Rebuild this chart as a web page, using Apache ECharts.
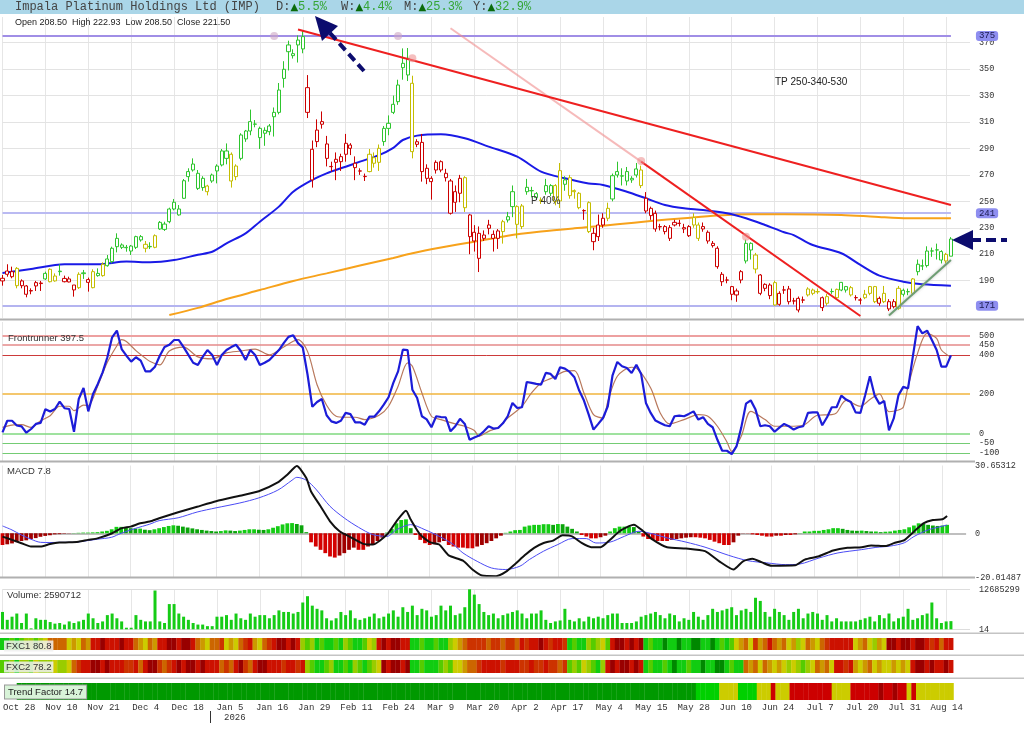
<!DOCTYPE html>
<html><head><meta charset="utf-8">
<script src="https://cdn.jsdelivr.net/npm/echarts@6/dist/echarts.min.js"></script>
<style>html,body{margin:0;padding:0;background:#fff}#c{width:1024px;height:735px}</style>
</head><body><div id="c"></div>
<script>
// ---------- DATA ----------
const tickLabels = ['Oct 28','Nov 10','Nov 21','Dec 4','Dec 18','Jan 5','Jan 16','Jan 29','Feb 11','Feb 24','Mar 9','Mar 20','Apr 2','Apr 17','May 4','May 15','May 28','Jun 10','Jun 24','Jul 7','Jul 20','Jul 31','Aug 14'];
const TICK_EVERY = 9;
const BAR_COUNT = 200, PAD_BARS = 4;

const opens = [189.8,194.8,193.0,199.3,186.2,186.0,182.5,186.0,187.8,191.3,
198.6,189.8,196.8,189.2,189.0,186.7,184.7,195.3,190.8,184.7,
195.5,193.8,206.4,204.4,215.7,217.0,215.2,212.4,215.2,223.3,
217.5,215.6,215.2,229.1,232.8,234.6,249.3,239.7,252.3,268.7,
278.2,271.2,260.4,257.3,265.4,273.0,277.5,282.5,285.6,268.7,
282.5,297.2,303.2,308.3,305.2,301.5,302.7,314.0,317.3,343.0,
363.2,361.7,368.3,374.6,336.0,266.2,295.2,308.3,293.4,276.2,
279.5,280.0,285.6,292.6,278.8,273.0,268.9,272.5,283.0,279.5,
295.2,305.2,317.3,325.4,351.1,358.2,339.3,293.1,294.6,275.0,
267.4,273.7,280.0,267.9,265.4,249.3,256.1,267.9,239.7,226.6,
206.9,224.5,229.6,225.0,227.6,227.1,235.9,257.3,232.6,246.5,
257.3,258.0,255.8,251.0,257.3,261.9,261.9,250.3,262.9,267.9,
258.1,256.1,243.0,249.0,225.8,223.3,232.1,237.2,251.8,269.9,
269.3,265.4,267.4,269.9,273.7,252.3,244.7,240.9,230.9,230.9,
230.1,232.1,233.4,230.1,224.0,237.7,232.1,230.9,226.6,218.2,
214.5,194.8,190.5,185.5,179.2,190.5,204.9,218.2,209.4,194.3,
184.2,178.7,188.5,172.1,183.0,183.7,174.7,167.8,175.4,179.2,
180.4,181.7,177.1,172.9,181.7,177.1,182.9,185.5,184.7,177.2,
175.4,177.1,180.4,185.5,172.9,180.4,174.1,170.3,169.1,182.7,
181.6,180.4,196.8,201.1,201.4,212.5,213.2,212.0,204.9,208.5];
const closes = [191.8,197.3,196.8,186.2,189.8,179.7,182.2,188.5,188.2,195.5,
189.2,193.5,197.2,191.7,191.3,183.0,194.8,195.9,188.7,196.8,
193.8,202.4,201.3,214.5,222.0,215.2,214.9,216.2,223.3,220.8,
214.5,215.9,224.0,234.1,228.8,244.2,244.2,244.2,265.6,272.5,
273.7,259.8,267.4,261.6,269.9,276.7,288.1,288.1,265.4,276.7,
300.2,303.2,310.3,308.5,298.2,303.7,307.0,317.3,334.2,349.9,
368.3,360.2,372.0,365.3,317.3,289.4,303.9,310.3,282.5,276.4,
281.8,283.8,293.9,290.1,275.5,272.9,268.7,285.6,278.8,290.1,
305.2,309.0,323.4,338.0,354.4,345.6,287.6,295.1,272.5,267.4,
264.9,279.5,273.7,271.2,241.0,257.3,267.4,245.2,223.3,220.0,
225.8,222.0,232.1,222.0,222.0,234.6,238.4,246.0,246.0,230.9,
260.6,258.1,252.8,250.5,261.9,256.1,249.8,273.2,266.2,254.3,
257.3,245.2,242.9,227.1,219.5,232.1,237.2,244.7,269.4,272.5,
269.1,272.5,266.2,274.5,261.9,242.7,239.2,229.1,230.7,227.1,
222.0,234.1,233.3,229.1,230.9,232.1,222.0,229.1,220.0,216.5,
200.6,189.2,190.4,179.7,182.2,196.8,218.2,213.2,198.8,180.4,
187.2,186.7,171.6,180.4,182.9,174.1,174.6,176.6,175.3,183.7,
182.9,181.6,169.6,177.9,181.8,183.4,188.7,182.9,179.2,177.1,
175.3,179.7,185.5,174.1,176.6,174.1,168.6,174.1,184.2,179.7,
181.7,191.3,202.4,201.2,212.4,212.4,213.3,205.6,209.9,221.5];
const lows = [186.2,193.0,191.8,184.2,184.2,177.4,179.7,182.2,182.2,190.5,
188.7,189.2,193.8,188.7,188.7,177.9,183.7,191.3,181.7,184.2,
193.0,193.0,200.6,203.1,211.4,213.9,211.9,209.4,213.9,219.5,
211.4,213.9,214.5,228.4,227.6,233.4,243.2,239.2,251.8,264.9,
272.5,258.6,258.0,254.5,264.0,263.6,276.4,278.0,260.4,266.0,
281.0,295.0,300.0,306.0,289.6,292.0,300.0,299.0,315.8,336.0,
349.0,358.0,355.0,362.0,313.0,260.4,291.0,305.0,276.4,272.5,
266.0,273.0,280.0,285.0,266.0,270.0,265.4,272.0,275.5,273.0,
292.0,300.0,316.0,323.0,342.0,341.0,282.5,291.0,264.9,263.0,
251.3,271.0,272.0,265.0,240.0,242.0,249.3,242.0,210.0,212.0,
196.5,220.0,225.0,212.0,214.0,218.0,234.0,238.0,222.0,229.0,
255.0,253.0,251.0,248.0,255.0,254.0,247.0,245.0,258.0,252.0,
252.0,244.0,236.0,226.0,213.0,220.0,230.0,235.0,250.0,268.0,
262.0,262.0,264.0,268.0,260.0,241.0,236.0,227.0,228.0,225.0,
220.0,231.0,231.0,226.0,223.0,230.0,220.0,227.0,218.0,215.0,
199.0,186.0,188.0,175.2,174.0,188.0,203.0,206.0,195.5,179.0,
182.0,176.0,171.0,171.0,180.0,172.0,172.0,166.0,173.0,178.0,
179.0,180.0,167.0,171.0,180.0,176.0,182.0,181.0,178.0,175.0,
172.0,176.0,179.0,173.0,171.0,173.0,167.0,169.0,168.0,178.0,
179.0,179.0,194.0,198.0,200.0,208.0,206.0,203.0,203.0,208.5];
const highs = [194.3,202.4,200.6,200.3,191.0,186.7,184.2,189.8,189.8,196.8,
199.3,195.5,202.4,193.8,193.0,186.7,196.3,198.1,192.3,198.6,
199.3,203.9,209.4,215.7,225.8,218.2,217.0,217.0,224.0,224.5,
220.0,219.0,225.0,235.1,234.6,245.2,251.8,247.2,266.9,275.0,
282.5,273.7,269.0,262.5,271.0,278.0,289.6,293.8,287.0,278.0,
301.5,304.0,319.4,311.5,306.5,306.0,308.5,321.0,339.5,356.0,
371.5,365.0,375.5,379.0,345.5,296.0,312.0,318.0,299.5,280.0,
287.0,286.0,301.0,294.0,284.0,275.0,271.0,289.6,287.0,293.0,
307.0,315.0,330.0,342.0,365.7,366.0,345.0,297.0,301.0,278.0,
269.0,281.0,281.0,274.6,266.9,262.0,270.0,269.0,240.5,232.0,
231.0,228.0,236.0,228.0,229.0,236.0,242.0,262.0,247.0,248.0,
267.0,261.0,257.0,253.0,267.0,263.0,263.0,279.0,269.0,270.0,
259.0,257.0,244.0,250.0,230.0,240.0,241.0,249.0,271.0,280.0,
275.0,276.0,269.0,279.0,277.0,257.0,246.0,243.0,233.0,232.0,
232.0,236.0,236.0,233.0,232.0,241.0,234.0,234.0,228.0,220.0,
216.0,196.5,193.0,186.0,184.0,198.0,221.0,219.0,211.0,195.0,
188.0,188.0,190.0,182.0,186.0,186.0,177.0,178.0,178.0,185.0,
184.0,184.0,178.0,180.0,184.0,184.0,189.0,186.0,186.0,179.0,
177.0,183.0,186.0,186.0,178.0,186.0,176.0,176.0,186.0,184.0,
184.0,192.0,206.0,206.0,216.0,215.0,218.0,213.0,211.0,222.93];
// candle trend colour per bar: g=green, r=red, y=yellow
const candleColors = 'rrryrrrrrg'+'yygrrrygry'+'gygggggggg'+'ygyggggggg'+'gggyggggyy'+'gggggggggg'+'ggggrrrrrr'+'rrrrrrryyy'+'ggggggyrrr'+'rrrrrrryrr'+
'rrrrryggyy'+'gggyggyygy'+'yyryrrrygg'+'ggggyrrrrr'+'rrrrryyrrr'+'rrrrrrggyr'+'rryrrrrrry'+'yyrygyggyr'+'ryyyryrryg'+'gyggggggyg';

// moving averages as [barIndex, value]
const maBlue = [[0,195.8],[6,198.9],[13,202.4],[20,202.4],[26,204.4],[31,203.9],[36,205.6],[41,209.6],[44,211.9],[47,218.2],[51,225.8],[54,234.6],[58,246],[61,257.3],[65,266.2],[68,271.2],[72,276.2],[75,280],[79,285],[82,290.5],[84,296.4],[87,299.7],[92,300.7],[97,297.7],[102,291.4],[108,283.8],[113,272.5],[118,267.4],[123,263.5],[126,262.4],[131,257.3],[135,252.3],[139,247.2],[143,244.7],[147,243.5],[152,241],[156,237.2],[160,232.1],[164,226.6],[166,224.5],[170,217],[176,210.7],[180,201.9],[184,193.8],[189,189.2],[193,187.2],[199,186.2]];
const maOrange = [[35,164],[41,169.4],[47,176.1],[54,182.9],[61,189.8],[68,195.5],[75,201.4],[82,207.2],[86,210.7],[92,215],[99,219.5],[106,224],[113,227.1],[120,229.6],[123,230.5],[129,232.6],[136,235.1],[143,237.2],[150,239.2],[157,240.2],[164,240.2],[176,239.7],[183,238.4],[190,237.2],[199,237.2]];
// trend lines [barIndex, price]
const trendMain = [[62,380.0],[199,247.2]];
const trendFaint = [[94,380.9],[134,280.0]];
const trendSteep = [[134,280.0],[180,163.3]];
const trendUp = [[186,163.7],[199,205.6]];
const pivotsTop = [[57,375],[83,375]];
const pivotsRed = [[86,358.2],[134,280.5],[156,223.3]];
const priceTicks = [190,210,230,250,270,290,310,330,350,370];

const frBlue = [5,64,64,40,35,3,22,48,53,123,
111,124,162,128,124,8,175,231,112,201,
252,311,388,490,524,430,396,366,388,371,
316,316,340,396,440,452,476,476,440,400,
360,349,390,425,400,349,400,425,440,452,
420,374,425,400,349,360,374,400,425,460,
492,500,460,438,300,135,160,175,92,61,
53,64,104,98,56,56,44,85,85,112,
146,184,257,316,427,424,222,180,87,71,
31,87,83,82,10,36,74,48,-33,-21,
-11,10,36,24,27,51,87,155,129,133,
262,257,252,248,308,303,277,337,330,313,
286,218,167,95,19,48,78,138,296,364,
342,333,308,350,302,155,104,65,53,41,
36,87,90,87,99,112,70,82,48,31,
-33,-89,-89,-106,-67,29,151,168,121,36,
41,36,8,29,48,36,19,31,36,104,
107,107,41,82,133,133,192,172,160,107,
104,194,291,192,150,165,15,76,195,237,
229,391,547,510,524,476,425,340,340,397.5];
const frBrown = [[0,30],[2,42],[4,44],[6,30],[8,64],[10,90],[12,138],[14,138],[15,116],[17,144],[18,141],[20,243],[22,362],[24,447],[25,478],[26,468],[28,422],[30,383],[31,366],[33,349],[35,420],[38,440],[41,390],[44,380],[47,410],[50,420],[53,430],[56,400],[59,440],[61,470],[62,478],[64,418],[66,248],[68,143],[70,87],[72,82],[74,82],[76,70],[79,92],[81,138],[83,240],[85,359],[86,342],[88,206],[90,87],[92,70],[95,48],[97,36],[99,14],[100,-15],[102,10],[104,31],[106,78],[109,138],[111,206],[113,257],[115,279],[118,316],[120,320],[122,206],[124,95],[126,78],[127,163],[129,291],[132,337],[133,333],[136,231],[138,104],[140,48],[143,70],[146,95],[148,87],[150,36],[152,-44],[153,-92],[155,-15],[157,112],[160,70],[162,36],[165,36],[168,41],[171,92],[174,95],[175,104],[177,168],[180,138],[182,172],[184,201],[186,110],[188,119],[189,133],[190,238],[192,408],[194,510],[196,484],[197,425],[199,388]];
const frLevels = [500,450,400,200,0,-50,-100];

const macdLine = [[0,-1.5],[2,-3.0],[4,-4.5],[6,-6.0],[8,-6.0],[10,-4.9],[12,-4.2],[14,-4.1],[16,-3.8],[18,-3.0],[20,-2.3],[23,-0.1],[25,2.2],[27,3.0],[29,4.5],[31,5.3],[33,6.8],[37,9.5],[41,12],[45,14.5],[50,17],[54,19],[58,23],[60,26.5],[62,30.4],[64,25],[65,18.9],[67,12.2],[69,5.4],[71,0.9],[73,-1.4],[76,-4.8],[78,-5.1],[81,-0.6],[83,5.4],[85,10.2],[86,6.2],[88,-0.6],[90,-4.0],[92,-5.1],[94,-10.0],[97,-12.4],[99,-16.4],[101,-19.1],[104,-19.4],[106,-17.5],[108,-13.9],[110,-10.0],[112,-6.6],[114,-4.4],[116,-3.3],[118,-0.9],[120,-1.4],[122,-4.4],[124,-6.3],[126,-6.3],[128,-2.9],[130,0.9],[132,3.2],[133,3.9],[135,0.9],[137,-2.9],[140,-6.3],[144,-6.9],[148,-8.1],[151,-12.7],[154,-16.4],[156,-12.7],[158,-11.5],[160,-13.2],[162,-14.7],[167,-14.5],[169,-11.9],[172,-10.4],[175,-7.8],[178,-6.6],[181,-6.3],[183,-5.5],[186,-5.8],[188,-4.3],[190,-3.1],[192,0.7],[194,4.5],[196,6.0],[198,6.3],[199,7.8]];
const macdSignal = [[0,3.3],[2,1.5],[4,-0.8],[6,-2.7],[8,-4.1],[10,-4.2],[12,-4.1],[15,-4.1],[18,-3.3],[20,-2.7],[23,-1.8],[25,0],[28,2.2],[31,4.1],[33,5.7],[37,7],[41,9.6],[45,11.5],[50,13.7],[54,16],[58,19.5],[61,24],[62,25.3],[64,24],[66,20],[69,12.2],[72,6.9],[75,2.7],[78,-0.6],[81,-1.4],[83,1.6],[86,3.9],[89,1.6],[92,-1.4],[95,-5.1],[97,-8.9],[100,-12.7],[103,-15.7],[106,-16.4],[109,-14.9],[111,-11.9],[114,-8.1],[117,-5.1],[120,-2.4],[123,-2.4],[125,-4.4],[128,-4.0],[131,-1.4],[134,0.9],[137,-0.3],[140,-2.1],[144,-4.0],[148,-6.3],[153,-10.0],[157,-12.4],[161,-13.4],[165,-14.2],[168,-13.9],[172,-11.2],[176,-8.9],[181,-7.4],[184,-6.4],[187,-5.8],[190,-4.3],[192,-1.5],[195,1.5],[199,3.7]];
const macdHist = [-5.3,-5.0,-4.6,-4.0,-3.5,-3.2,-2.6,-2.2,-1.6,-1.2,
-0.9,-0.5,-0.4,-0.2,-0.1,0.1,0.2,0.3,0.3,0.4,
0.5,0.8,1.1,1.8,2.9,2.9,2.6,2.3,2.1,2.1,
1.6,1.4,1.8,2.3,2.8,3.3,3.6,3.4,3.0,2.6,
2.2,1.8,1.5,1.2,1.0,0.8,1.0,1.3,1.2,1.0,
1.2,1.5,1.8,1.8,1.6,1.5,1.8,2.5,3.2,4.0,
4.5,4.6,4.2,3.6,0.5,-4.1,-6.0,-7.5,-9.0,-10.5,
-11.0,-10.1,-9.0,-7.5,-6.5,-7.5,-7.5,-6.0,-5.3,-3.5,
-2.0,0.3,2.0,4.5,6.0,6.3,2.3,-0.8,-3.0,-4.5,
-5.3,-5.0,-4.1,-3.5,-5.3,-6.0,-6.5,-6.5,-6.8,-6.8,
-6.0,-5.3,-4.5,-3.5,-2.3,-1.1,0.2,0.8,1.4,1.5,
3.0,3.5,3.8,3.8,4.1,4.1,3.8,4.2,4.1,3.0,
2.0,0.8,-0.8,-1.5,-2.3,-2.3,-1.8,-1.1,0.8,2.3,
3.0,3.0,3.0,2.8,0.8,-1.5,-2.6,-3.0,-3.5,-3.5,
-3.5,-3.0,-2.6,-2.3,-2.0,-1.8,-1.8,-2.0,-2.3,-3.0,
-3.8,-4.5,-5.3,-5.3,-4.1,-1.1,-0.1,-0.1,-0.5,-0.8,
-1.1,-1.5,-1.5,-1.1,-1.1,-0.8,-0.8,-0.5,0.1,0.8,
0.8,1.1,1.1,1.5,1.8,2.3,2.3,2.0,1.5,1.2,
1.1,1.2,1.0,0.8,0.8,0.5,0.7,0.8,1.2,1.5,
1.8,2.7,3.5,4.5,4.2,3.8,3.5,3.3,3.5,3.8];
const MACD_MAX = 30.65312, MACD_MIN = -20.01487;

// volume in millions of shares
const volumeM = [5.5,3.0,4.0,5.0,2.0,5.0,0.3,3.5,3.0,3.0,
2.3,1.8,2.0,1.5,2.5,2.0,2.5,3.0,5.0,3.5,
2.0,2.5,4.5,5.0,3.5,2.5,0.5,0.5,4.5,3.0,
2.5,2.5,12.3,2.5,2.0,8.0,8.0,5.0,4.0,3.0,
2.0,1.5,1.5,1.0,1.0,4.0,4.0,4.5,3.0,5.0,
3.5,3.0,5.0,4.0,4.5,4.5,3.5,4.5,6.0,5.5,
5.5,5.0,5.5,8.5,10.5,7.5,6.5,6.0,3.5,2.8,
3.5,5.5,4.5,6.0,3.5,3.0,3.5,4.0,5.0,3.5,
4.0,5.0,6.0,4.0,7.0,5.5,7.5,4.5,6.5,6.0,
4.0,4.5,7.5,6.0,7.5,4.5,5.0,7.0,13.0,11.0,
8.0,5.5,4.5,5.0,3.5,4.5,5.0,5.5,6.0,5.0,
3.5,5.0,5.0,6.0,3.0,2.0,2.5,2.8,6.5,3.0,
2.5,3.5,2.5,4.0,3.5,4.0,3.5,4.5,5.0,5.0,
2.0,2.0,2.0,2.5,4.0,4.5,5.0,5.5,4.5,3.5,
5.0,4.5,2.5,3.5,3.0,5.5,4.0,3.0,4.5,6.5,
5.5,6.0,6.5,7.0,4.5,6.0,6.5,5.5,10.0,9.0,
5.5,4.0,6.5,5.5,4.5,3.0,5.5,6.5,3.5,5.0,
5.5,5.0,3.0,4.5,2.5,3.5,2.5,2.5,2.5,2.5,
3.0,3.5,4.0,2.5,4.5,3.5,5.0,2.5,3.5,4.0,
6.5,3.0,3.5,4.5,5.0,8.5,3.5,2.0,2.5,2.590712];
const VOL_MAX = 12685299, VOL_MIN = 14;

// heat strips: 0 dark red ... 9 dark green
const fxc1Codes = '8878766765'+'3333'+'54534'+'1101110113'+'4534'+'11001001'+'3453'+'325453214532'+'100101'+'6768788786788756'+'1010011'+'887887886'+'54322223223223'+'1211012112'+'8788'+'67657'+'1001010'+'878898898899889'+'8787'+'54352431'+'3435465345321'+'1111'+'5435645'+'00100100'+'121311';
const fxc2Codes = '7768667566'+'65665'+'321100101112'+'2131002321'+'01001011'+'132310231001'+'1121121'+'6788768878678765'+'010010'+'887888767'+'554332'+'11112111'+'2212212232'+'76756786'+'10100101'+'878878988788988998788'+'34353454'+'56567653435'+'1121'+'454354554545'+'100101101';
const trendRuns = [['9',145],['8',5],['5',4],['8',4],['5',3],['1',1],['5',3],['1',9],['5',4],['1',6],['0',1],['1',2],['0',1],['1',2],['5',1],['1',1],['5',8]];

// ---------- STYLE ----------
const CANDLE_PAL = {g:'#2ec52e', r:'#cc0000', y:'#c4bd00'};
const HEAT_PAL = {'0':'#990000','1':'#cc1100','2':'#cc3300','3':'#cc6600','4':'#cc9900','5':'#cccc00','6':'#99cc00','7':'#55cc00','8':'#11cc11','9':'#008800'};
const TREND_PAL = {'9':'#009900','8':'#00d000','5':'#cccc00','1':'#cc0000','0':'#a00000'};
const MONO = 'Liberation Mono, DejaVu Sans Mono, monospace';
const SANS = 'Liberation Sans, Arial, sans-serif';

const N = BAR_COUNT + PAD_BARS;
const cats = Array.from({length:N}, (_, i) => String(i));
const tickShow = (i) => i % TICK_EVERY === 0 && i / TICK_EVERY < tickLabels.length;

const G = {left:2.5, right:54};
const grids = [
  {top:17, height:301},
  {top:322, height:140},
  {top:465.5, height:112},
  {top:589.3, height:40},
  {top:638, height:12},
  {top:660, height:13},
  {top:683, height:17}
].map(g => Object.assign({}, G, g));

const xAxes = grids.map((g, i) => ({
  type:'category', gridIndex:i, data:cats, boundaryGap:false,
  axisLine:{show:false}, axisTick:{show:false},
  axisLabel:{show:i===6, interval:(idx)=>tickShow(idx), formatter:(v, idx)=> tickShow(idx) ? tickLabels[idx/TICK_EVERY] : '',
    fontFamily:MONO, fontSize:9, color:'#333', margin:3, alignMinLabel:'center'},
  splitLine:{show:i<4, interval:(idx)=>tickShow(idx), lineStyle:{color:'#e6e6e6', width:1}}
}));

const axLab = (vals) => ({customValues:vals, fontFamily:MONO, fontSize:8.5, color:'#333', margin:9, formatter:(v)=>String(v)});
const yAxes = [
  {gridIndex:0, min:161.75, max:389.44, axisLabel:axLab(priceTicks)},
  {gridIndex:1, min:-146.4, max:567.9, axisLabel:axLab(frLevels)},
  {gridIndex:2, min:MACD_MIN, max:MACD_MAX, axisLabel:axLab([MACD_MAX,0,MACD_MIN])},
  {gridIndex:3, min:VOL_MIN, max:VOL_MAX, axisLabel:axLab([VOL_MAX, VOL_MIN])},
  {gridIndex:4, min:0, max:1, axisLabel:{show:false}},
  {gridIndex:5, min:0, max:1, axisLabel:{show:false}},
  {gridIndex:6, min:0, max:1, axisLabel:{show:false}}
].map(a => Object.assign({type:'value', position:'right', scale:false, splitLine:{show:false}, axisLine:{show:false}, axisTick:{show:false}}, a));

const candleData = opens.map((o, i) => {
  const col = CANDLE_PAL[candleColors[i]];
  return {value:[o, closes[i], lows[i], highs[i]], itemStyle:{color:'#ffffff', color0:col, borderColor:col, borderColor0:col}};
});

const levelMark = (v, color, width) => [{coord:[0, v], lineStyle:{color, width, type:'solid'}, label:{show:true, formatter:String(v)}}, {coord:[BAR_COUNT-1, v]}];

const stripData = (codes, pal) => codes.split('').map(c => ({value:1, itemStyle:{color:pal[c]}}));
const trendCodes = trendRuns.map(r => r[0].repeat(r[1])).join('');

const lineS = (data, color, width, xi, extra) => Object.assign({type:'line', xAxisIndex:xi, yAxisIndex:xi, data, symbol:'none', silent:true,
  lineStyle:{color, width}, itemStyle:{color}}, extra || {});

const series = [
  {type:'candlestick', xAxisIndex:0, yAxisIndex:0, data:candleData, barWidth:3.6, clip:false, silent:true, z:4,
    markLine:{silent:true, symbol:['none','none'], z:1, label:{show:false}, lineStyle:{color:'#e3e3e3', width:1, type:'solid'},
      data: priceTicks.map(v => ({yAxis:v}))}},
  lineS(maOrange, '#f7a21b', 2, 0, {smooth:0.3, z:3}),
  lineS(maBlue, '#1a1ae6', 2, 0, {smooth:0.3, z:3,
    markLine:{silent:true, symbol:['none','none'], z:2, lineStyle:{type:'solid'},
      label:{position:'end', distance:25, backgroundColor:'#8e8ef0', color:'#1a1a50', padding:[1,3,0,3], borderRadius:3, fontFamily:MONO, fontSize:9},
      data:[levelMark(375, '#a08ee6', 2), levelMark(241, '#babaf2', 2), levelMark(171, '#b4b4f0', 2)]}}),
  lineS(trendFaint, 'rgba(240,140,140,0.6)', 2, 0, {z:5}),
  lineS(trendMain, '#ee2020', 2, 0, {z:5}),
  lineS(trendSteep, '#ee2020', 2, 0, {z:5}),
  lineS(trendUp, '#6f9e74', 2, 0, {z:5, lineStyle:{color:'#6f9e74', width:2, shadowColor:'rgba(150,150,150,0.6)', shadowBlur:3}}),
  {type:'scatter', xAxisIndex:0, yAxisIndex:0, data:pivotsTop, symbolSize:8, silent:true, z:6, itemStyle:{color:'rgba(205,165,195,0.75)'}},
  {type:'scatter', xAxisIndex:0, yAxisIndex:0, data:pivotsRed, symbolSize:8, silent:true, z:6, itemStyle:{color:'rgba(238,140,140,0.7)'}},
  // Frontrunner
  lineS(frBrown, '#b8785c', 1.2, 1, {smooth:0.3, z:3}),
  lineS(frBlue, '#1c1cd8', 2.2, 1, {z:4,
    markLine:{silent:true, symbol:['none','none'], z:1, label:{show:false},
      data:[
        {yAxis:500, lineStyle:{color:'#eda0a0', width:2, type:'solid'}},
        {yAxis:450, lineStyle:{color:'#e58a8a', width:1.5, type:'solid'}},
        {yAxis:400, lineStyle:{color:'#cc3a3a', width:1, type:'solid'}},
        {yAxis:200, lineStyle:{color:'#f0b43c', width:1.5, type:'solid'}},
        {yAxis:0, lineStyle:{color:'#7fd97f', width:1.5, type:'solid'}},
        {yAxis:-50, lineStyle:{color:'#74cc74', width:1.2, type:'solid'}},
        {yAxis:-100, lineStyle:{color:'#74cc74', width:1.2, type:'solid'}}
      ]}}),
  // MACD
  {type:'bar', xAxisIndex:2, yAxisIndex:2, data:macdHist, barWidth:3.8, silent:true, z:2,
    itemStyle:{color:(p)=>{const v=p.value, pr=p.dataIndex>0?macdHist[p.dataIndex-1]:v; return v>=0 ? (v>=pr?'#14cc14':'#0aa50a') : (v<=pr?'#d40000':'#a00000');}},
    markLine:{silent:true, symbol:['none','none'], z:1, label:{show:false}, lineStyle:{color:'#aaaaaa', width:1.5, type:'solid'}, data:[{yAxis:0}]}},
  lineS(macdSignal, '#4b4bf5', 1, 2, {smooth:0.3, z:3}),
  lineS(macdLine, '#111111', 2, 2, {smooth:0.2, z:4}),
  // Volume
  {type:'bar', xAxisIndex:3, yAxisIndex:3, data:volumeM.map(v=>v*1e6), barWidth:3, silent:true, itemStyle:{color:'#16cc16'},
    markLine:{silent:true, symbol:['none','none'], z:1, label:{show:false}, lineStyle:{color:'#dddddd', width:1, type:'solid'}, data:[{yAxis:VOL_MAX},{yAxis:VOL_MIN}]}},
  // heat strips
  {type:'bar', xAxisIndex:4, yAxisIndex:4, data:stripData(fxc1Codes, HEAT_PAL), barWidth:5, silent:true},
  {type:'bar', xAxisIndex:5, yAxisIndex:5, data:stripData(fxc2Codes, HEAT_PAL), barWidth:5, silent:true},
  {type:'bar', xAxisIndex:6, yAxisIndex:6, data:stripData(trendCodes, TREND_PAL), barWidth:5, silent:true}
];

// ---------- annotations / frame ----------
const sep = (y, h, c, w) => ({type:'rect', shape:{x:0, y, width:w || 1024, height:h}, style:{fill:c}, z:10, silent:true});
const txt = (x, y, text, font, fill, extra) => ({type:'text', x, y, z:20, silent:true, style:Object.assign({text, font, fill, verticalAlign:'middle'}, extra || {})});
const NAVY = '#0c0c6e';
const chg = (x, label, pct) => txt(x, 7, '{a|'+label+'}{b|▲}{c|'+pct+'}', '12px '+MONO, '#444',
  {rich:{a:{fill:'#444', font:'12px '+MONO}, b:{fill:'#0b6b0b', font:'10px DejaVu Sans'}, c:{fill:'#35a535', font:'12px '+MONO}}});
const graphic = [
  {type:'rect', shape:{x:0, y:0, width:1024, height:14}, style:{fill:'#aad6e8'}, z:10, silent:true},
  txt(15, 7, 'Impala Platinum Holdings Ltd (IMP)', '12px '+MONO, '#444'),
  chg(276, 'D:', '5.5%'), chg(341, 'W:', '4.4%'), chg(404, 'M:', '25.3%'), chg(473, 'Y:', '32.9%'),
  txt(15, 23, 'Open 208.50  High 222.93  Low 208.50  Close 221.50', '9px '+SANS, '#222'),
  sep(318.5, 2, '#b0b0b0'), sep(460.5, 2, '#b0b0b0', 975), sep(576.5, 2, '#b0b0b0', 975),
  sep(632.5, 1.5, '#c4c4c4'), sep(654.5, 1.5, '#c4c4c4'), sep(677.5, 1.5, '#c4c4c4'),
  txt(8, 338, 'Frontrunner 397.5', '9.5px '+SANS, '#333'),
  txt(7, 471, 'MACD 7.8', '9.5px '+SANS, '#333'),
  txt(7, 595, 'Volume: 2590712', '9.5px '+SANS, '#333'),
  txt(4, 646, 'FXC1 80.8', '9.5px '+SANS, '#333', {backgroundColor:'rgba(240,240,240,0.85)', padding:[1,2,0,2]}),
  txt(4, 667, 'FXC2 78.2', '9.5px '+SANS, '#333', {backgroundColor:'rgba(240,240,240,0.85)', padding:[1,2,0,2]}),
  txt(5, 692, 'Trend Factor 14.7', '9.5px '+SANS, '#222', {backgroundColor:'#d8f3d8', borderColor:'#999', borderWidth:1, padding:[2,3,1,3]}),
  txt(775, 82, 'TP 250-340-530', '10px '+SANS, '#222'),
  txt(531, 201, 'P 40%', '10px '+SANS, '#333'),
  {type:'line', shape:{x1:210.5, y1:711, x2:210.5, y2:723}, style:{stroke:'#333', lineWidth:1}, z:20, silent:true},
  txt(224, 718, '2026', '9px '+MONO, '#333'),
  // arrows
  {type:'line', shape:{x1:330, y1:33, x2:364, y2:71}, style:{stroke:NAVY, lineWidth:4, lineDash:[9,5]}, z:20, silent:true},
  {type:'polygon', shape:{points:[[315,16],[338,26],[322,41]]}, style:{fill:NAVY}, z:20, silent:true},
  {type:'line', shape:{x1:971, y1:240, x2:1007, y2:240}, style:{stroke:NAVY, lineWidth:4, lineDash:[10,5]}, z:20, silent:true},
  {type:'polygon', shape:{points:[[952,240],[973,230],[973,250]]}, style:{fill:NAVY}, z:20, silent:true}
];

const chart = echarts.init(document.getElementById('c'), null, {renderer:'canvas'});
chart.setOption({
  animation:false,
  backgroundColor:'#ffffff',
  grid:grids, xAxis:xAxes, yAxis:yAxes, series, graphic
});
</script></body></html>
